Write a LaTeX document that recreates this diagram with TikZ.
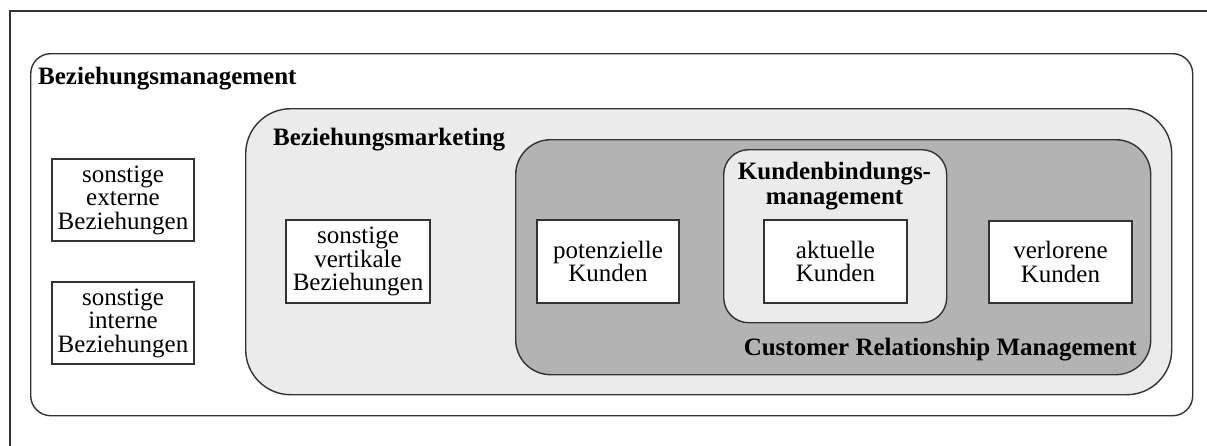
\documentclass[tikz,border=0pt]{standalone}
\usepackage{fontspec}
\setmainfont{Liberation Serif}
\definecolor{lightfill}{HTML}{EBEBEB}
\definecolor{darkfill}{HTML}{B3B3B3}
\definecolor{linecol}{HTML}{333333}
\tikzset{
  region/.style={draw=linecol, line width=1.4pt, inner sep=0pt, anchor=north west},
  itembox/.style={draw=linecol, line width=1.4pt, fill=white, inner sep=0pt, align=center,
    font=\fontsize{25}{23.5}\selectfont},
  title/.style={inner sep=0pt, anchor=base west, font=\fontsize{25}{25}\selectfont\bfseries},
}
\begin{document}
\begin{tikzpicture}[x=1pt,y=-1pt]
\useasboundingbox (0,0) rectangle (1207,445);
\coordinate (fa) at (10,460);
\coordinate (fb) at (10,11);
\coordinate (fc) at (1220,11);
\draw[linecol, line width=1.4pt] (fa) -- (fb) -- (fc);
% Beziehungsmanagement
\node[region, fill=white, rounded corners=20pt, minimum width=1162pt, minimum height=362pt] (bm) at (30,53) {};
\node[title] (bmt) at (38,84) {Beziehungsmanagement};
% Beziehungsmarketing
\node[region, fill=lightfill, rounded corners=45pt, minimum width=926pt, minimum height=286pt] (bmk) at (245,108) {};
\node[title] (bmkt) at (273,145) {Beziehungsmarketing};
% CRM
\node[region, fill=darkfill, rounded corners=35pt, minimum width=635pt, minimum height=235pt] (crm) at (515,139) {};
\node[title, anchor=base east] (crmt) at (1137,355) {Customer Relationship Management};
% Kundenbindungsmanagement
\node[region, fill=lightfill, rounded corners=25pt, minimum width=223pt, minimum height=173pt] (kbm) at (723,149) {};
\node[title, anchor=base, align=center, font=\fontsize{25}{25}\selectfont\bfseries] (kbmt) at (834.5,204) {Kundenbindungs-\\management};
% item boxes
\node[itembox, minimum width=142pt, minimum height=82pt] (ext) at (123,200) {sonstige\\externe\\Beziehungen};
\node[itembox, minimum width=142pt, minimum height=82pt] (int) at (123,323) {sonstige\\interne\\Beziehungen};
\node[itembox, minimum width=144pt, minimum height=83pt] (vert) at (358,261.5) {sonstige\\vertikale\\Beziehungen};
\node[itembox, minimum width=142pt, minimum height=83pt] (pot) at (608,261.5) {potenzielle\\Kunden};
\node[itembox, minimum width=143pt, minimum height=83pt] (akt) at (835.5,261.5) {aktuelle\\Kunden};
\node[itembox, minimum width=143pt, minimum height=82pt] (verl) at (1060.5,262) {verlorene\\Kunden};
\end{tikzpicture}
\end{document}
